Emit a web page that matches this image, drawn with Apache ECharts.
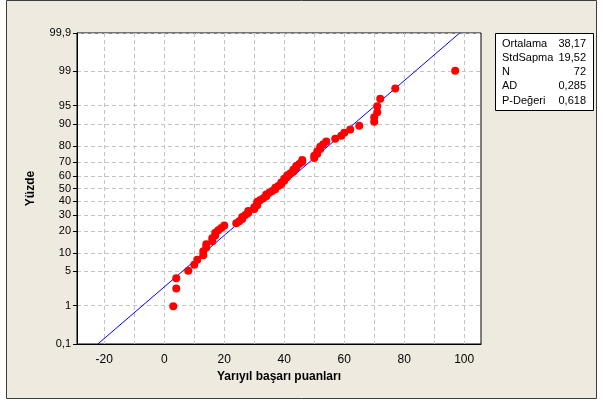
<!DOCTYPE html>
<html>
<head>
<meta charset="utf-8">
<script src="https://cdn.jsdelivr.net/npm/echarts@6/dist/echarts.min.js"></script>
<style>
html,body{margin:0;padding:0;background:#fff;}
#chart{position:absolute;left:0;top:0;width:603px;height:405px;}
</style>
</head>
<body>
<div id="chart"></div>
<script>
// ---- data (sorted semester scores, N = 72) ----
const scores = [
  3, 4, 4, 8, 10, 11, 13, 13, 14, 14,
  16, 16, 17, 17, 18, 19, 20, 24, 25, 26,
  26, 27, 28, 28, 30, 30, 31, 31, 31, 32,
  33, 34, 34, 35, 36, 37, 37, 38, 39, 39,
  40, 40, 41, 41, 42, 43, 43, 44, 44, 45,
  46, 46, 50, 50, 51, 51, 52, 52, 53, 54,
  57, 59, 60, 62, 65, 70, 70, 71, 71, 72,
  77, 97
];
const yTickPercents = [0.1, 1, 5, 10, 20, 30, 40, 50, 60, 70, 80, 90, 95, 99, 99.9];
const yTickLabels = ['0,1', '1', '5', '10', '20', '30', '40', '50', '60', '70', '80', '90', '95', '99', '99,9'];
const xTickValues = [-20, 0, 20, 40, 60, 80, 100];
const xGridValues = [-20, -10, 0, 10, 20, 30, 40, 50, 60, 70, 80, 90, 100];
const statNames = ['Ortalama', 'StdSapma', 'N', 'AD', 'P-Değeri'];
const statTexts = ['38,17', '19,52', '72', '0,285', '0,618'];
const fitMean = 38.17;
const fitSd = 19.52;

// ---- inverse standard normal (probability-scale transform) ----
function invNorm(p) {
  const a = [-3.969683028665376e+01, 2.209460984245205e+02, -2.759285104469687e+02, 1.383577518672690e+02, -3.066479806614716e+01, 2.506628277459239e+00];
  const b = [-5.447609879822406e+01, 1.615858368580409e+02, -1.556989798598866e+02, 6.680131188771972e+01, -1.328068155288572e+01];
  const c = [-7.784894002430293e-03, -3.223964580411365e-01, -2.400758277161838e+00, -2.549671010114770e+00, 4.374664141464968e+00, 2.938163982698783e+00];
  const d = [7.784695709041462e-03, 3.224671290700398e-01, 2.445134137142996e+00, 3.754408661907416e+00];
  const pl = 0.02425, ph = 1 - pl;
  let q, r;
  if (p < pl) {
    q = Math.sqrt(-2 * Math.log(p));
    return (((((c[0]*q+c[1])*q+c[2])*q+c[3])*q+c[4])*q+c[5]) / ((((d[0]*q+d[1])*q+d[2])*q+d[3])*q+1);
  }
  if (p <= ph) {
    q = p - 0.5; r = q * q;
    return (((((a[0]*r+a[1])*r+a[2])*r+a[3])*r+a[4])*r+a[5])*q / (((((b[0]*r+b[1])*r+b[2])*r+b[3])*r+b[4])*r+1);
  }
  q = Math.sqrt(-2 * Math.log(1 - p));
  return -(((((c[0]*q+c[1])*q+c[2])*q+c[3])*q+c[4])*q+c[5]) / ((((d[0]*q+d[1])*q+d[2])*q+d[3])*q+1);
}

const n = scores.length;
const yTickZ = yTickPercents.map(v => invNorm(v / 100));
const zMin = invNorm(0.001), zMax = invNorm(0.999);
// median-rank plotting positions (Minitab normal probability plot)
const points = scores.map((s, i) => [s, invNorm((i + 1 - 0.3) / (n + 0.4))]);
const fitLine = [[fitMean + fitSd * zMin, zMin], [fitMean + fitSd * zMax, zMax]];

const FONT = 'Arial, "Liberation Sans", sans-serif';
const chart = echarts.init(document.getElementById('chart'), null, {renderer: 'canvas'});

const statGraphics = [];
statNames.forEach((nm, i) => {
  statGraphics.push({type: 'text', x: 502, y: 43.5 + i * 14.3, z: 101,
    style: {text: nm, fontFamily: FONT, fontSize: 11, fill: '#000', verticalAlign: 'middle', align: 'left'}});
  statGraphics.push({type: 'text', x: 586, y: 43.5 + i * 14.3, z: 101,
    style: {text: statTexts[i], fontFamily: FONT, fontSize: 11, fill: '#000', verticalAlign: 'middle', align: 'right'}});
});

chart.setOption({
  animation: false,
  backgroundColor: 'transparent',
  graphic: [
    {type: 'rect', z: -100, silent: true, shape: {x: 6.5, y: 0.5, width: 590, height: 398},
      style: {fill: '#EEEAE0', stroke: '#3c3c3c', lineWidth: 1}},
    {type: 'rect', z: 100, shape: {x: 495.5, y: 33.5, width: 98, height: 77},
      style: {fill: '#fff', stroke: '#000', lineWidth: 1}}
  ].concat(statGraphics),
  grid: {left: 77, top: 33, right: 122, bottom: 61, show: true, backgroundColor: '#fff',
    borderColor: '#000', borderWidth: 1, containLabel: false},
  xAxis: {
    type: 'value', min: -29.1, max: 105.6,
    name: 'Yarıyıl başarı puanları', nameLocation: 'middle', nameGap: 26,
    nameTextStyle: {fontFamily: FONT, fontSize: 12, fontWeight: 'bold', color: '#000'},
    axisLine: {show: true, onZero: false, lineStyle: {color: '#000'}},
    axisTick: {show: false, customValues: xGridValues},
    axisLabel: {customValues: xTickValues, fontFamily: FONT, fontSize: 12, color: '#000', margin: 10,
      formatter: v => String(v)},
    splitLine: {show: true, lineStyle: {color: '#C4C4C4', type: [4, 3], width: 1}}
  },
  yAxis: {
    type: 'value', min: zMin - 1e-6, max: zMax + 1e-6,
    name: 'Yüzde', nameLocation: 'middle', nameGap: 40,
    nameTextStyle: {fontFamily: FONT, fontSize: 12, fontWeight: 'bold', color: '#000'},
    axisLine: {show: true, onZero: false, lineStyle: {color: '#000'}},
    axisTick: {show: true, inside: false, length: 4, customValues: yTickZ, lineStyle: {color: '#000'}},
    axisLabel: {customValues: yTickZ, showMaxLabel: true, showMinLabel: true, hideOverlap: false,
      fontFamily: FONT, fontSize: 11, color: '#000', margin: 6,
      formatter: function (v) {
        let best = 0, bd = Infinity;
        yTickZ.forEach((z, i) => { const dd = Math.abs(z - v); if (dd < bd) { bd = dd; best = i; } });
        return yTickLabels[best];
      }},
    splitLine: {show: true, lineStyle: {color: '#C4C4C4', type: [4, 3], width: 1}}
  },
  series: [
    {type: 'line', data: fitLine, symbol: 'none', lineStyle: {color: '#0000FF', width: 1}, z: 3, clip: true},
    {type: 'scatter', data: points, symbol: 'circle', symbolSize: 8,
      itemStyle: {color: '#FF0000', opacity: 1}, z: 4}
  ]
});
</script>
</body>
</html>
